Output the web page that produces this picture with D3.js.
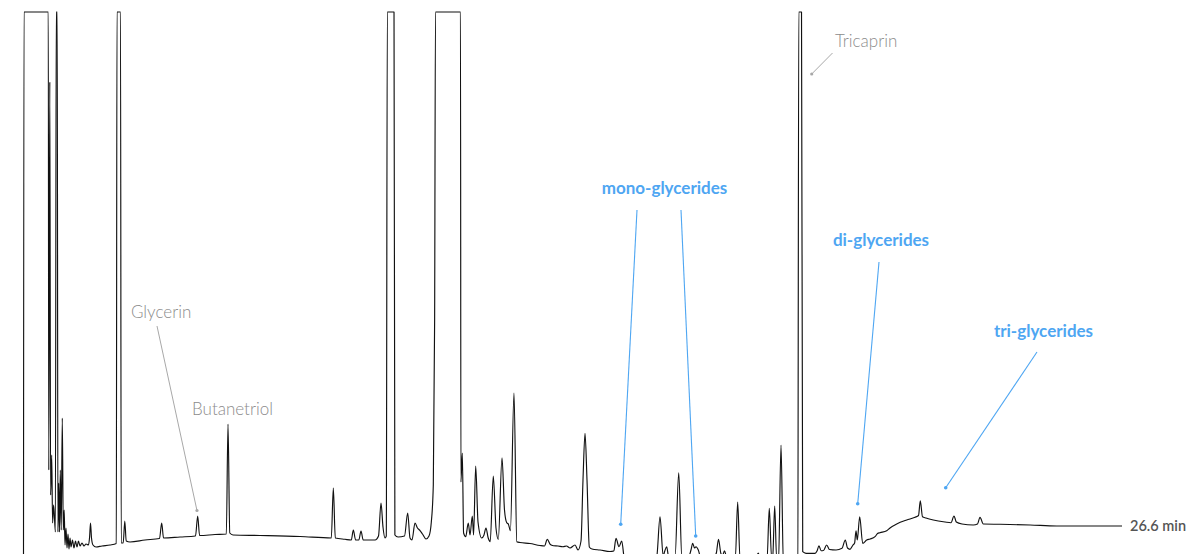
<!DOCTYPE html>
<html>
<head>
<meta charset="utf-8">
<script src="https://cdn.jsdelivr.net/npm/d3@7"></script>
<style>
  html, body { margin: 0; padding: 0; background: #fff; overflow: hidden; }
  svg { display: block; }
</style>
</head>
<body>
<svg id="chart" width="1189" height="554"></svg>
<script>
// GC-FID trace of a biodiesel sample: retention time (min) vs detector response.
// Responses at 540 are detector saturation (flat-topped solvent / reference peaks).
const retentionTime = [
  0.012,0.024,0.612,0.624,0.649,0.668,0.695,0.716,0.741,0.784,0.804,0.828,0.845,0.864,0.883,0.903,0.925,0.951,0.975,0.997,
  1.017,1.041,1.065,1.089,1.113,1.138,1.162,1.198,1.234,1.271,1.307,1.343,1.380,1.428,1.476,1.525,1.585,1.612,1.634,1.658,
  1.694,1.767,1.912,2.106,2.258,2.275,2.360,2.377,2.425,2.464,2.498,2.590,2.953,3.304,3.357,3.401,3.800,4.175,4.228,4.274,
  4.647,4.921,4.962,5.005,5.083,5.736,6.705,7.462,7.511,7.559,7.794,7.946,7.995,8.050,8.128,8.181,8.234,8.520,8.605,8.665,
  8.713,8.762,8.793,8.818,8.980,9.001,9.077,9.234,9.311,9.367,9.415,9.488,9.548,9.597,9.669,9.754,9.827,9.883,9.931,9.963,
  9.984,10.589,10.599,10.633,10.664,10.715,10.778,10.819,10.875,10.906,10.957,11.013,11.102,11.158,11.206,11.260,11.308,11.383,11.448,11.504,
  11.594,11.654,11.708,11.746,11.797,11.884,11.952,12.029,12.271,12.513,12.622,12.690,12.763,12.840,12.949,13.070,13.155,13.240,13.361,13.433,
  13.506,13.554,13.603,13.651,13.707,13.772,13.966,14.207,14.300,14.353,14.425,14.491,14.554,14.692,15.176,15.338,15.418,15.495,15.534,15.580,
  15.624,15.781,15.871,15.946,16.096,16.168,16.209,16.253,16.289,16.345,16.398,16.677,16.781,16.834,16.889,16.927,16.979,17.023,17.241,17.298,
  17.354,17.717,17.797,17.850,18.008,18.063,18.119,18.146,18.194,18.240,18.288,18.347,18.402,18.565,18.753,18.777,18.843,18.872,18.952,19.170,
  19.218,19.266,19.315,19.375,19.452,19.520,19.678,19.823,19.903,19.956,20.017,20.089,20.128,20.162,20.193,20.251,20.324,20.421,20.501,20.622,
  20.683,20.743,20.905,20.985,21.147,21.389,21.590,21.675,21.718,21.771,21.856,22.033,22.316,22.461,22.534,22.590,22.727,23.001,23.103,23.163,
  23.243,23.647,24.374,25.020,25.826,26.600
];

const detectorSignal = [
  -8,540,540,82,470,57,97,29,47,20,540,540,20,69,20,82,22,134,22,42,
  7,24,4,18,3,14,5,12,4,11,5,11,6,9,6,8,7,15,29,14,
  7,5,6,7,8.5,540,540,9,9,31,11,10,12,13.5,29,14,15,16,36,16.5,
  17.5,18,128,19,17,16.5,15.5,14,64,14,12.7,12,22,12,12,21,12,12,16,49,
  25,14,16,540,540,17,15,16,39,14,12,29,24,22,18,13,16,30,67,232,
  540,540,70,99,19,15.3,29,17,36,17,86,30,14,17,24,14,10.3,76,24,12.7,
  94.3,42,29.3,28,21.3,159,10.3,9.5,8.5,6.5,6,12.7,7.5,6.3,6,5.3,6,4,7,2,
  11,72,118.7,72,5,3,2,0.5,1,13.7,5.3,11,-6,-12,-12,-5,35.3,-4,1,5.3,
  -4,-6,79.3,-5,-6,2,8.7,4,5.3,2,-5,-8,-1,12.7,-1,-4,1.3,-4,-6,50,
  -6,-8,-1,-8,-8,43.7,-6,-5,46,-6,-5,107,-6,-10,-6,540,540,0.3,-1.3,-1.3,
  1,6.3,1.3,1.5,7,2.5,2,3.7,12,4,2.7,7,9,21.3,12,35.3,8.7,12,13,15.3,
  18.5,19.3,21.3,24,28,32,34.7,36.5,51.3,35.3,34,32,30,29.3,36,30,28,27,28,34.7,
  28,27.7,27,26,26,26
];

const runLength = 26.6;
const runLabel = "26.6 min";

// Identified single compounds (anchor = time, response on the trace)
const compoundNames   = ["Tricaprin", "Glycerin", "Butanetriol"];
const compoundTimes   = [19.090, 4.211, 4.962];
const compoundSignals = [478, 41.5, 128];

// Glyceride groups, each with one or more marked peaks
const groupNames   = ["mono-glycerides", "di-glycerides", "tri-glycerides"];
const groupTimes   = [[14.467, 16.282], [20.203], [22.333]];
const groupSignals = [[27.7, 16], [48.3], [64.3]];

const width = 1189, height = 554;
const svg = d3.select("#chart");

const x = d3.scaleLinear().domain([0, runLength]).range([23, 1122]);
const y = d3.scaleLinear().domain([0, 540]).range([552, 12]);

const trace = retentionTime.map((t, i) => ({ t, s: detectorSignal[i] }));

const line = d3.line()
  .x(d => x(d.t))
  .y(d => y(d.s))
  .curve(d3.curveMonotoneX);

svg.append("path")
  .datum(trace)
  .attr("fill", "none")
  .attr("stroke", "#111")
  .attr("stroke-width", 1.15)
  .attr("stroke-linejoin", "round")
  .attr("d", line);

// end-of-run label
const last = trace[trace.length - 1];
svg.append("text")
  .attr("x", x(last.t) + 8)
  .attr("y", y(last.s))
  .attr("dy", "0.35em")
  .attr("font-family", "Lato, 'Open Sans', sans-serif")
  .attr("font-weight", 600)
  .attr("font-size", 14.5)
  .attr("fill", "#555")
  .text(runLabel);

// compound labels (gray, light)
const grayText = "#8c8c8c", grayLine = "#a8a8a8";
const compoundLayout = [
  { tx: 835, ty: 46.5, lx: 832.5, ly: 53 },
  { tx: 131, ty: 317.5, lx: 157, ly: 326 },
  { tx: 192, ty: 414.5, lx: null, ly: null }
];

compoundNames.forEach((name, i) => {
  const L = compoundLayout[i];
  const ax = x(compoundTimes[i]), ay = y(compoundSignals[i]);
  if (L.lx !== null) {
    svg.append("line")
      .attr("x1", L.lx).attr("y1", L.ly).attr("x2", ax).attr("y2", ay)
      .attr("stroke", grayLine).attr("stroke-width", 1);
    svg.append("circle").attr("cx", ax).attr("cy", ay).attr("r", 1.6).attr("fill", grayLine);
  }
  svg.append("text")
    .attr("x", L.tx).attr("y", L.ty)
    .attr("font-family", "Lato, 'Open Sans', sans-serif")
    .attr("font-weight", 300)
    .attr("font-size", 17)
    .attr("fill", grayText)
    .text(name);
});

// glyceride group labels (blue)
const blue = "#4ea6f2";
const groupLayout = [
  { tx: 664.5, ty: 194, starts: [[637, 210], [681, 210]] },
  { tx: 881,   ty: 246, starts: [[879, 262]] },
  { tx: 1043.5, ty: 337, starts: [[1037, 352]] }
];

groupNames.forEach((name, i) => {
  const L = groupLayout[i];
  groupTimes[i].forEach((t, j) => {
    const ax = x(t), ay = y(groupSignals[i][j]);
    svg.append("line")
      .attr("x1", L.starts[j][0]).attr("y1", L.starts[j][1])
      .attr("x2", ax).attr("y2", ay)
      .attr("stroke", blue).attr("stroke-width", 1.1);
    svg.append("circle").attr("cx", ax).attr("cy", ay).attr("r", 1.8).attr("fill", blue);
  });
  svg.append("text")
    .attr("x", L.tx).attr("y", L.ty)
    .attr("text-anchor", "middle")
    .attr("font-family", "Lato, 'Open Sans', sans-serif")
    .attr("font-weight", 700)
    .attr("font-size", 17)
    .attr("fill", blue)
    .text(name);
});
</script>
</body>
</html>
